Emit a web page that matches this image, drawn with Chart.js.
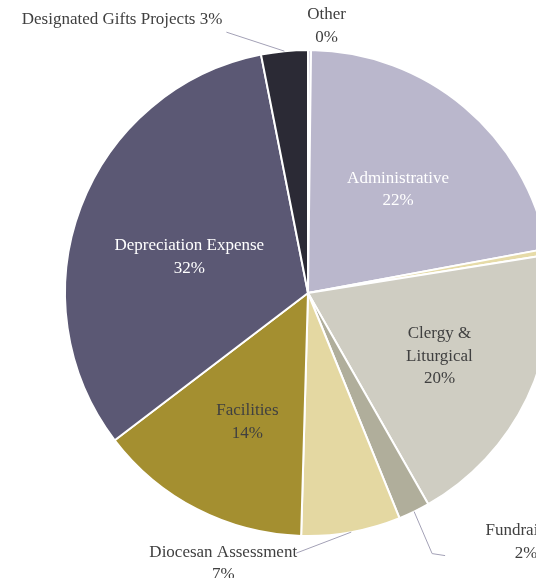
<!DOCTYPE html>
<html>
<head>
<meta charset="utf-8">
<script src="https://cdn.jsdelivr.net/npm/chart.js@4.4.1/dist/chart.umd.min.js"></script>
<style>
  html, body { margin: 0; padding: 0; background: #fff; overflow: hidden; }
  #wrap { position: absolute; left: 0; top: 0; width: 616px; height: 578px; }
</style>
</head>
<body>
<div id="wrap"><canvas id="chart"></canvas></div>
<script>
// categories, clockwise from 12 o'clock
const categories = ['Other', 'Administrative', 'Other Income', 'Clergy & Liturgical', 'Fundraising',
  'Diocesan Assessment', 'Facilities', 'Depreciation Expense', 'Designated Gifts Projects'];
const values = [0.2, 21.9, 0.4, 19.3, 2.1, 6.6, 14.2, 32.3, 3.1];
const colors = ['#d9d6e2', '#bab7cc', '#e6dba8', '#cfcdc2', '#b0ae9b', '#e4d8a2', '#a48f30', '#5b5874', '#2b2a35'];

const FONT = '17px "Liberation Serif", "DejaVu Serif", serif';

// label layout per slice
const labelStyle = {
  1: { inside: true, lines: ['Administrative', '22%'], color: '#ffffff', r: 0.564, da: 1 },
  3: { inside: true, lines: ['Clergy &', 'Liturgical', '20%'], color: '#404040', r: 0.6, da: 0 },
  6: { inside: true, lines: ['Facilities', '14%'], color: '#404040', r: 0.587, da: -2 },
  7: { inside: true, lines: ['Depreciation Expense', '32%'], color: '#ffffff', r: 0.51, da: -4 },
  0: { lines: ['Other', '0%'], text: [17, -35], align: 'center' },
  8: { lines: ['Designated Gifts Projects 3%'], leader: [[-58, -19]], text: [-62, -32], align: 'right' },
  4: { lines: ['Fundraising', '2%'], leader: [[18, 42], [31, 44]], text: [112, 19], align: 'center' },
  5: { lines: ['Diocesan Assessment', '7%'], leader: [[-55, 21]], text: [-128, 20], align: 'center' }
};

const labelPlugin = {
  id: 'pieLabels',
  afterDatasetsDraw(chart) {
    const ctx = chart.ctx;
    const arcs = chart.getDatasetMeta(0).data;
    ctx.save();
    ctx.font = FONT;
    ctx.textBaseline = 'middle';
    arcs.forEach((arc, i) => {
      const st = labelStyle[i];
      if (!st) return;
      const mid = (arc.startAngle + arc.endAngle) / 2;
      const cx = arc.x, cy = arc.y, R = arc.outerRadius;
      const lh = 22.5;
      if (st.inside) {
        const a = mid + st.da * Math.PI / 180;
        const px = cx + Math.cos(a) * R * st.r;
        const py = cy + Math.sin(a) * R * st.r;
        ctx.fillStyle = st.color;
        ctx.textAlign = 'center';
        const y0 = py - (st.lines.length - 1) * lh / 2;
        st.lines.forEach((t, k) => ctx.fillText(t, px, y0 + k * lh));
        return;
      }
      const ex = cx + Math.cos(mid) * R;
      const ey = cy + Math.sin(mid) * R;
      if (st.leader) {
        ctx.strokeStyle = '#a3a1b6';
        ctx.lineWidth = 1;
        ctx.beginPath();
        ctx.moveTo(ex, ey);
        st.leader.forEach(p => ctx.lineTo(ex + p[0], ey + p[1]));
        ctx.stroke();
      }
      ctx.fillStyle = '#404040';
      ctx.textAlign = st.align;
      const tx = ex + st.text[0], ty = ey + st.text[1];
      st.lines.forEach((t, k) => ctx.fillText(t, tx, ty + k * lh));
    });
    ctx.restore();
  }
};

new Chart(document.getElementById('chart'), {
  type: 'pie',
  data: {
    labels: categories,
    datasets: [{
      data: values,
      backgroundColor: colors,
      borderColor: '#ffffff',
      borderWidth: 2
    }]
  },
  options: {
    responsive: true,
    maintainAspectRatio: false,
    animation: false,
    layout: { padding: { left: 64, right: 64, top: 49, bottom: 41 } },
    plugins: {
      legend: { display: false },
      tooltip: { enabled: false }
    }
  },
  plugins: [labelPlugin]
});
</script>
</body>
</html>
